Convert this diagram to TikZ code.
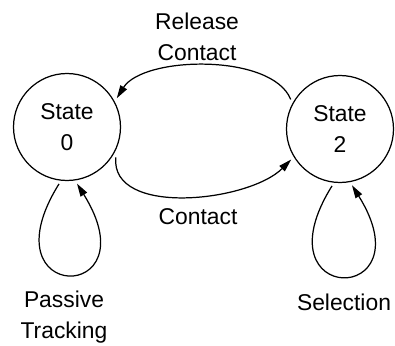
\documentclass[tikz,border=0pt]{standalone}
\usepackage{fontspec}
\setmainfont{Liberation Sans}
\usetikzlibrary{arrows.meta}

\begin{document}
\begin{tikzpicture}[x=0.02cm,y=0.02cm,line width=0.7pt,
  font=\fontsize{13}{17.6}\selectfont,
  state/.style={draw,circle,minimum size=2.14cm,inner sep=0pt,outer sep=0.08cm,align=center},
  trans/.style={-{Triangle[length=2.6mm,width=1.5mm]}}]
\useasboundingbox (0,0) rectangle (395,345);

\node[state] (S0) at (67,218) {State\\0};
\node[state] (S2) at (340,216) {State\\2};

\draw[trans] (S2.149) to[out=112,in=58,distance=1.0cm] (S0.30);
\draw[trans] (S0.-32) to[out=-95,in=-135,distance=1.2cm] (S2.212);
\draw[trans] (S0.-98) to[out=-122,in=-58,distance=2.86cm] (S0.-80);
\draw[trans] (S2.-98) to[out=-122,in=-58,distance=2.86cm] (S2.-78);

\node[align=center] (rel) at (197,308) {Release\\Contact};
\node (con) at (198,128) {Contact};
\node[align=center] (pas) at (64,28) {Passive\\Tracking};
\node (sel) at (344,43) {Selection};
\end{tikzpicture}
\end{document}
